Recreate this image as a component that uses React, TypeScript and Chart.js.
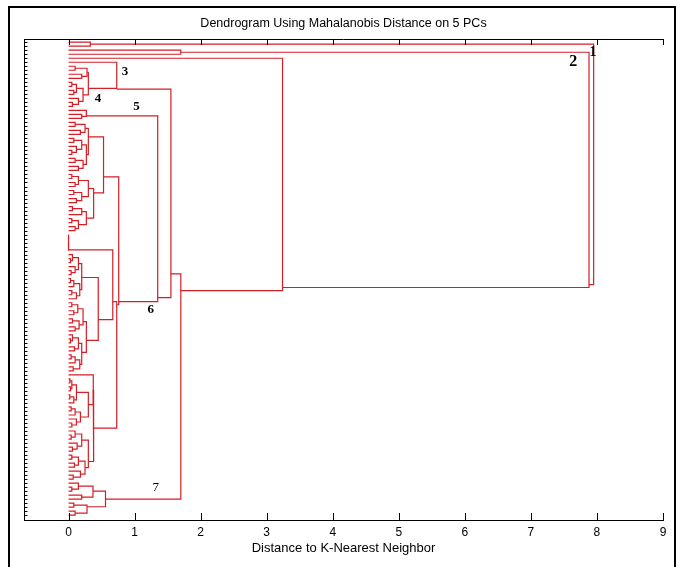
import React, { useEffect, useRef } from 'react';
import { Chart, registerables } from 'chart.js';

Chart.register(...registerables);

// Dendrogram description. A leaf is L. A link is
// [merge distance, upper child, lower child, optional branch position in leaf-order units].
const L = 0;

const clusterA = [0.33, L, L];
const clusterB = [1.7, L, L];
const cluster3 = [0.73, L, [0.3, [0.28, [0.1, L, L], [0.2, L, L]], [0.22, [0.12, [0.05, L, L], [0.08, L, L]], [0.15, L, [0.06, L, L]]], 11.5], 11.7];
const cluster5 = [0.27, L, [0.2, L, L], 18.4];
const groupW1 = [0.3, [0.25, [0.1, L, L], [0.18, L, L]], [0.27, [0.2, [0.08, L, L], [0.12, L, [0.05, L, L]]], [0.22, [0.1, L, L], [0.15, L, L]]], 23.6];
const groupW2 = [0.38, [0.3, [0.15, [0.05, L, L], [0.1, L, L]], [0.2, [0.08, L, L], [0.12, L, L]]], [0.27, [0.2, [0.06, L, L], L], [0.15, [0.05, L, L], [0.1, L, L]]], 37.6];
const groupZ0 = [0, [0, L, L], [0, L, [0, L, L]], 51.8];
const groupY2a = [0.2, [0.15, [0.06, L, [0.03, L, L]], [0.1, L, [0.04, L, L]]], [0.17, [0.08, [0.03, L, L], L], [0.12, [0.05, L, L], L]], 58.7];
const groupY2b = [0.27, [0.22, [0.14, [0.05, L, L], [0.08, L, L]], [0.16, [0.06, L, L], [0.1, L, L]], 69.7], [0.2, [0.15, [0.06, L, [0.03, L, L]], [0.09, L, L]], [0.17, [0.1, [0.04, L, L], L], [0.07, L, L]], 77.4], 74.4];
const groupX2mid = [0.3, [0.12, [0.05, [0.02, L, L], [0.03, L, L]], [0.08, [0.02, L, L], L]], [0.18, [0.1, [0.04, L, L], L], [0.12, L, [0.05, L, L]]], 90.4];
const groupX2bot = [0.3, [0.2, [0.1, L, [0.04, L, L]], [0.13, L, [0.06, L, L]]], [0.25, [0.15, [0.05, L, L], [0.09, L, L]], [0.18, L, [0.07, L, L]]], 104.6];
const cluster7 = [0.56, [0.37, [0.15, L, [0.05, L, L]], [0.2, L, L], 112], [0.28, [0.08, L, L], [0.1, L, L], 115.9], 114];

const branchW = [0.53, groupW1, groupW2, 33.6];
const branchY2 = [0.45, groupY2a, groupY2b, 69.2];
const branchY = [0.67, groupZ0, branchY2, 64.7];
const branchX2 = [0.38, [0.375, L, groupX2mid], groupX2bot, 96.3];
const branchXp = [0.73, branchY, branchX2, 65.5];
const branchV = [0.76, branchW, branchXp, 64.7];
const branchU = [1.35, cluster5, branchV, 63.7];
const branchT = [1.55, cluster3, branchU, 57.8];
const branchS = [1.7, branchT, cluster7, 62];
const branchQ = [3.24, L, branchS, 61.2];
const branchP = [7.88, clusterB, branchQ, 60.5];
const rootLink = [7.95, clusterA, branchP];

const xTickValues = [0, 1, 2, 3, 4, 5, 6, 7, 8, 9];
const xMin = -0.674;
const xMax = 9;

const labelTexts = ['1', '2', '3', '4', '5', '6', '7'];
const labelX = [7.94, 7.64, 0.855, 0.447, 1.03, 1.245, 1.32];
const labelY = [2.6, 4.9, 7.4, 14.2, 16.1, 66.6, 111.2];
const labelSizes = [14, 16, 13, 13, 13, 13, 13];
const labelBold = [true, true, true, true, true, true, false];

const titleText = 'Dendrogram Using Mahalanobis Distance on 5 PCs';
const xLabelText = 'Distance to K-Nearest Neighbor';

type Pt = { x: number; y: number };

function buildSegments(root: any) {
  const segs: Pt[][] = [];
  const state = { k: 0 };
  const walk = (node: any): { y: number; h: number } => {
    if (typeof node === 'number') {
      const y = state.k;
      state.k += 1;
      return { y, h: 0 };
    }
    const [h, a, b, out] = node;
    const ca = walk(a);
    const cb = walk(b);
    segs.push([
      { x: ca.h, y: ca.y },
      { x: h, y: ca.y },
      { x: h, y: cb.y },
      { x: cb.h, y: cb.y },
    ]);
    return { y: out !== undefined ? out : (ca.y + cb.y) / 2, h };
  };
  walk(root);
  return { segs, leafCount: state.k };
}

export default function App() {
  const ref = useRef<HTMLCanvasElement>(null);

  useEffect(() => {
    if (!ref.current) return;
    const { segs, leafCount } = buildSegments(rootLink);
    const lineColor = 'rgb(214, 30, 38)';

    const decor = {
      id: 'decor',
      afterDraw(chart: any) {
        const { ctx, chartArea: a, scales } = chart;
        const xs = scales.x;
        const ys = scales.y;
        ctx.save();
        ctx.strokeStyle = '#000';
        ctx.lineWidth = 1;
        ctx.beginPath();
        ctx.moveTo(a.left, Math.round(a.top) + 0.5);
        ctx.lineTo(a.right, Math.round(a.top) + 0.5);
        ctx.stroke();
        ctx.beginPath();
        for (const v of xTickValues) {
          const px = Math.round(xs.getPixelForValue(v)) + 0.5;
          ctx.moveTo(px, a.bottom);
          ctx.lineTo(px, a.bottom - 7);
          ctx.moveTo(px, a.top);
          ctx.lineTo(px, a.top + 6);
        }
        for (let k = 0; k < leafCount; k++) {
          const py = Math.round(ys.getPixelForValue(k)) + 0.5;
          ctx.moveTo(a.left, py);
          ctx.lineTo(a.left + 3.5, py);
        }
        ctx.stroke();

        ctx.fillStyle = '#000';
        ctx.textAlign = 'center';
        ctx.textBaseline = 'middle';
        for (let i = 0; i < labelTexts.length; i++) {
          ctx.font = `${labelBold[i] ? 'bold ' : ''}${labelSizes[i]}px "Liberation Serif", "Times New Roman", serif`;
          ctx.fillText(labelTexts[i], xs.getPixelForValue(labelX[i]), ys.getPixelForValue(labelY[i]));
        }
        const cx = (a.left + a.right) / 2;
        ctx.font = '12.5px "Liberation Sans", Arial, sans-serif';
        ctx.fillText(titleText, cx, a.top - 15);
        ctx.font = '13px "Liberation Sans", Arial, sans-serif';
        ctx.fillText(xLabelText, cx, a.bottom + 28);
        ctx.restore();
      },
    };

    const chart = new Chart(ref.current, {
      type: 'scatter',
      data: {
        datasets: segs.map((s) => ({
          data: s,
          showLine: true,
          borderColor: lineColor,
          borderWidth: 1.2,
          pointRadius: 0,
          pointHoverRadius: 0,
          fill: false,
          tension: 0,
        })),
      },
      options: {
        animation: false,
        responsive: false,
        events: [],
        layout: { padding: { left: 0, right: 15, top: 39, bottom: 0 } },
        plugins: { legend: { display: false }, tooltip: { enabled: false }, title: { display: false } },
        scales: {
          x: {
            type: 'linear',
            min: xMin,
            max: xMax,
            afterBuildTicks: (scale: any) => {
              scale.ticks = xTickValues.map((v) => ({ value: v }));
            },
            afterFit: (scale: any) => {
              scale.height = 47;
            },
            grid: { drawOnChartArea: false, drawTicks: false },
            border: { display: true, color: '#000', width: 1 },
            ticks: {
              color: '#000',
              padding: 5,
              maxRotation: 0,
              autoSkip: false,
              font: { family: '"Liberation Sans", Arial, sans-serif', size: 12 },
            },
          },
          y: {
            type: 'linear',
            reverse: true,
            min: -0.8,
            max: leafCount + 0.2,
            afterFit: (scale: any) => {
              scale.width = 24;
            },
            grid: { drawOnChartArea: false, drawTicks: false },
            border: { display: true, color: '#000', width: 1 },
            ticks: { display: false },
          },
        },
      },
      plugins: [decor],
    } as any);

    return () => chart.destroy();
  }, []);

  return (
    <div style={{ position: 'fixed', left: 0, top: 0, width: 678, height: 567, background: '#fff', overflow: 'hidden' }}>
      <div
        style={{
          position: 'absolute',
          left: 8,
          top: 6,
          width: 668,
          height: 600,
          border: '2px solid #000',
          boxSizing: 'border-box',
        }}
      />
      <canvas ref={ref} width={678} height={567} style={{ position: 'absolute', left: 0, top: 0, width: 678, height: 567 }} />
    </div>
  );
}
